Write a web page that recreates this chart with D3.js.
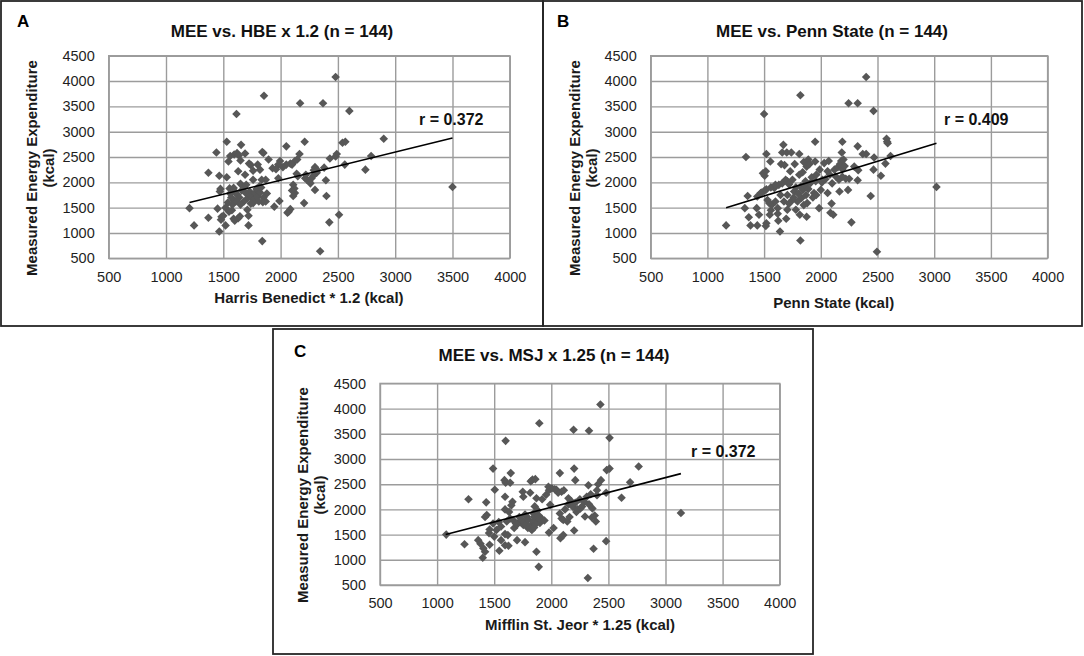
<!DOCTYPE html>
<html>
<head>
<meta charset="utf-8">
<script src="https://cdn.jsdelivr.net/npm/d3@7"></script>
<style>
  body { margin: 0; background: #fff; }
  text { font-family: "Liberation Sans", Arial, sans-serif; }
</style>
</head>
<body>
<div id="canvas"></div>
<script>
"use strict"

/* values */
let xTicks = [500, 1000, 1500, 2000, 2500, 3000, 3500, 4000];
let yTicks = [500, 1000, 1500, 2000, 2500, 3000, 3500, 4000, 4500];

let panelLetters = ["A", "B", "C"];
let panelTitles = ["MEE vs. HBE x 1.2 (n = 144)", "MEE vs. Penn State (n = 144)", "MEE vs. MSJ x 1.25 (n = 144)"];
let xTitles = ["Harris Benedict * 1.2 (kcal)", "Penn State (kcal)", "Mifflin St. Jeor * 1.25 (kcal)"];
let yTitle = ["Measured Energy Expenditure", "(kcal)"];
let rLabels = ["r = 0.372", "r = 0.409", "r = 0.372"];

// trend line ends [x0, y0, x1, y1]
let trendA = [1205, 1600, 3500, 2875];
let trendB = [1165, 1500, 3020, 2770];
let trendC = [1075, 1500, 3135, 2710];

let pointsA = [
  [2480,4080],[1855,3710],[2170,3560],[2370,3560],[2600,3410],[1615,3350],[2900,2860],[3500,1910],
  [2790,2520],[2740,2250],[1530,2800],[1655,2740],[1440,2590],[1595,2550],[1620,2580],[1635,2530],
  [1545,2410],[1840,2600],[1850,2580],[2050,2710],[2210,2800],[2540,2780],[2565,2800],[2490,2560],
  [2480,2510],[2560,2350],[2430,2470],[2380,2290],[2300,2300],[2290,2240],[2315,2190],[2230,2050],
  [2165,2560],[2145,2450],[2125,2420],[2085,2370],[2050,2350],[1995,2420],[1980,2350],[1895,2450],
  [1800,2350],[1725,2370],[1820,2250],[1760,2230],[1690,2150],[1630,2220],[1370,2190],[1465,2130],
  [1530,2100],[1475,1870],[1590,1890],[1650,1970],[1760,2050],[1835,2050],[1815,1920],[1980,2080],
  [2110,1950],[2125,1790],[2110,1730],[2215,2080],[2300,1850],[2395,2040],[2400,1730],[2205,1590],
  [2510,1360],[2425,1210],[1990,1630],[1945,1520],[2070,1420],[2085,1470],[1845,1610],[1760,1590],
  [1590,1650],[1450,1480],[1575,1450],[1370,1300],[1485,1320],[1590,1280],[1645,1330],[1720,1340],
  [1720,1150],[1520,1150],[1465,1030],[1245,1150],[1205,1490],[1840,840],[2345,640],[1555,1880],
  [1600,1820],[1620,1760],[1640,1700],[1660,1840],[1680,1900],[1700,1780],[1710,1680],[1730,1820],
  [1740,1740],[1760,1660],[1775,1790],[1790,1870],[1800,1720],[1810,1620],[1820,1800],[1830,1900],
  [1850,1700],[1570,1700],[1580,1560],[1610,1620],[1540,1600],[1680,1620],[1700,1950],[1650,1560],
  [1520,1500],[1550,1420],[1600,1240],[1630,1290],[1480,1260],[1500,1340],[1870,1620],[1740,2340],
  [1690,2570],[1560,2520],[1650,2430],[1870,2050],[2100,2350],[2140,2170],[2150,2120],[2120,1880],
  [2100,1840],[2220,2150],[2250,2020],[2270,2080],[2290,2140],[2320,2240],[2260,1980],[2060,1400],
  [1930,2280],[1960,2260],[2020,2300],[1560,1780],[1470,1820],[1710,1460],[1740,1580],[1880,1780]
];

let pointsB = [
  [2400,4080],[1820,3720],[2245,3560],[2325,3560],[2465,3410],[1500,3350],[2580,2860],[2585,2800],
  [2590,2770],[2615,2520],[3020,1910],[1340,2500],[1670,2740],[1520,2560],[1660,2590],[1700,2590],
  [1810,2560],[1950,2800],[2190,2800],[2325,2710],[2185,2590],[2370,2560],[2400,2560],[2465,2250],
  [2530,2130],[2570,2370],[2440,1730],[2270,1210],[2495,630],[1820,850],[1165,1150],[1330,1490],
  [1355,1730],[1435,1490],[1365,1310],[1380,1150],[1440,1150],[1520,1190],[1515,1140],[1455,1360],
  [1550,1360],[1640,1030],[1625,1240],[1695,1280],[1815,1360],[1875,1320],[1985,1490],[2095,1580],
  [2085,1400],[2110,1360],[2240,1850],[2165,1820],[2325,2040],[2250,2070],[2220,2070],[2295,2310],
  [2030,2380],[2060,2220],[2015,2050],[1955,2020],[2000,1850],[2060,1790],[1940,1790],[1880,1590],
  [1850,1550],[1780,1460],[1705,1460],[1620,1490],[1570,1560],[1530,1650],[1505,1840],[1470,1790],
  [1440,1720],[1505,2130],[1490,2180],[1515,2220],[1555,2410],[1650,2360],[1730,2220],[1770,2360],
  [1850,2400],[1890,2450],[1875,2310],[1810,2150],[1750,2050],[1705,2020],[1630,1950],[1590,1890],
  [1645,1750],[1705,1750],[1765,1820],[1825,1920],[1865,2020],[1910,1990],[1830,1690],[1795,1620],
  [1750,1650],[1675,1620],[1600,1620],[1545,1590],[1480,1800],[1520,1860],[1560,1900],[1600,1950],
  [1660,1980],[1690,2050],[1720,1960],[1780,1900],[1800,1780],[1840,1850],[1860,1950],[1890,1870],
  [1920,2100],[1960,2150],[1990,2250],[2010,2000],[2040,2060],[2080,2150],[2120,2250],[2150,2300],
  [2170,2360],[2180,2420],[2200,2450],[2190,2260],[2210,2320],[2130,2120],[2100,1980],[2160,2050],
  [2190,2110],[1930,1700],[1960,1750],[1900,2360],[1950,2410],[1840,2200],[1870,1750],[1720,1580],
  [1760,1700],[1680,2340],[1740,2590],[1560,1450],[1620,1380],[2070,2420],[2330,2240],[2470,2490]
];

let pointsC = [
  [2430,4080],[1895,3710],[2195,3580],[2330,3560],[2510,3420],[1600,3360],[2765,2850],[2690,2540],
  [3135,1930],[2615,2230],[1490,2810],[1645,2720],[1590,2580],[1600,2530],[1835,2590],[1820,2560],
  [2075,2720],[2200,2810],[2210,2580],[2325,2480],[2485,2780],[2510,2810],[2435,2580],[2410,2500],
  [2480,2330],[2400,2380],[2345,2300],[1275,2200],[1430,2140],[1435,1890],[1420,1850],[1505,2390],
  [1595,2250],[1660,2150],[1595,2000],[1750,2350],[1755,2250],[1815,2330],[1870,2220],[1955,2290],
  [1975,2450],[2005,2420],[2045,2390],[2090,2350],[1990,2090],[1855,2060],[1845,1920],[1785,1860],
  [1725,1760],[1665,1790],[1675,1630],[1755,1690],[1795,1630],[1870,1760],[1915,1820],[1900,1730],
  [1830,1590],[1700,1390],[1770,1350],[1870,1160],[1890,860],[1980,1540],[2020,1630],[2080,1430],
  [2105,1490],[2090,1820],[2075,1920],[2105,1790],[2200,1580],[2255,2020],[2295,1860],[2355,1840],
  [2390,1760],[2370,1220],[2480,1370],[2320,640],[1080,1500],[1240,1310],[1360,1390],[1380,1320],
  [1405,1230],[1420,1160],[1400,1040],[1455,1530],[1500,1460],[1520,1590],[1560,1390],[1595,1510],
  [1595,1290],[1545,1180],[1625,1280],[1610,1760],[1640,1820],[1630,1950],[1650,2080],[1700,1700],
  [1720,1850],[1740,1800],[1760,1750],[1780,1700],[1800,1800],[1820,1680],[1840,1760],[1850,1850],
  [1860,1700],[1880,1980],[1890,1880],[1900,1800],[1920,2200],[1940,1780],[1820,1620],[1850,1640],
  [1770,1900],[1690,1720],[1560,1660],[1540,1750],[1490,1720],[1460,1600],[1620,1490],[2120,2000],
  [2150,2100],[2170,2170],[2190,2050],[2210,2130],[2230,2000],[2250,2200],[2270,2060],[2290,2150],
  [2310,2250],[2330,2100],[2140,1760],[2160,1850],[2060,2330],[2110,2380],[2150,2220],[2360,2020],
  [2380,1880],[2030,2400],[1980,2380],[1640,2530],[1460,1300],[2400,2280],[2220,1950],[1860,2600]
];

let allPoints = [pointsA, pointsB, pointsC];
let allTrends = [trendA, trendB, trendC];

/* where each framed panel sits on the page */
let layout = [
  { frame: [1, 1, 543, 326], plot: [108.7, 55.7, 509.8, 258.3], letter: [17, 27], titleX: 282, titleY: 37,
    yTitleX: 37, yTitleY: 168, xTitleX: 309, xTitleY: 302.5, rX: 419, rY: 125 },
  { frame: [543, 1, 1082, 326], plot: [650.7, 55.7, 1047.6, 258.3], letter: [557, 27], titleX: 832, titleY: 37,
    yTitleX: 580, yTitleY: 168, xTitleX: 833.7, xTitleY: 308.3, rX: 944, rY: 125 },
  { frame: [273, 329, 813, 654], plot: [380, 383.4, 779.7, 585], letter: [294, 357], titleX: 554, titleY: 361,
    yTitleX: 308, yTitleY: 495, xTitleX: 580, xTitleY: 630, rX: 691, rY: 457 }
];

let drawing = d3.select("#canvas")
  .append("svg")
  .attr("width", 1084)
  .attr("height", 656);

drawing.append("rect")
  .attr("width", 1084).attr("height", 656)
  .attr("fill", "white");

let diamond = "M0,-4.3L4.3,0L0,4.3L-4.3,0Z";

layout.forEach(function (L, i) {
  let g = drawing.append("g");
  let [px0, py0, px1, py1] = L.plot;

  let x = d3.scaleLinear().domain([500, 4000]).range([px0, px1]);
  let y = d3.scaleLinear().domain([500, 4500]).range([py1, py0]);

  // grid + tick labels
  let xAxis = g.append("g")
    .attr("transform", "translate(0," + py1 + ")")
    .call(d3.axisBottom(x).tickValues(xTicks).tickFormat(d3.format("d"))
      .tickSize(-(py1 - py0)).tickPadding(13));
  let yAxis = g.append("g")
    .attr("transform", "translate(" + px0 + ",0)")
    .call(d3.axisLeft(y).tickValues(yTicks).tickFormat(d3.format("d"))
      .tickSize(-(px1 - px0)).tickPadding(14));

  [xAxis, yAxis].forEach(function (ax) {
    ax.select(".domain").remove();
    ax.selectAll(".tick line").attr("stroke", "#9c9c9c").attr("stroke-width", 1.4);
    ax.selectAll(".tick text")
      .attr("fill", "#1f1f1f")
      .style("font-size", "14.5px")
      .style("font-family", "'Liberation Sans', Arial, sans-serif");
  });

  g.append("rect")
    .attr("x", px0).attr("y", py0)
    .attr("width", px1 - px0).attr("height", py1 - py0)
    .attr("fill", "none")
    .attr("stroke", "#9c9c9c")
    .attr("stroke-width", 1.4);

  // points
  g.selectAll("path.pt")
    .data(allPoints[i])
    .enter()
    .append("path")
    .attr("class", "pt")
    .attr("d", diamond)
    .attr("transform", d => "translate(" + x(d[0]) + "," + y(d[1]) + ")")
    .attr("fill", "#575757");

  // trend line
  let t = allTrends[i];
  g.append("line")
    .attr("x1", x(t[0])).attr("y1", y(t[1]))
    .attr("x2", x(t[2])).attr("y2", y(t[3]))
    .attr("stroke", "black")
    .attr("stroke-width", 1.6);

  g.append("text")
    .attr("x", L.rX).attr("y", L.rY)
    .attr("font-size", 16).attr("font-weight", "bold")
    .attr("fill", "#111")
    .text(rLabels[i]);

  // titles
  g.append("text")
    .attr("x", L.letter[0]).attr("y", L.letter[1])
    .attr("font-size", 17).attr("font-weight", "bold")
    .text(panelLetters[i]);

  g.append("text")
    .attr("x", L.titleX).attr("y", L.titleY)
    .attr("text-anchor", "middle")
    .attr("font-size", 17).attr("font-weight", "bold")
    .attr("fill", "#111")
    .text(panelTitles[i]);

  g.append("text")
    .attr("x", L.xTitleX).attr("y", L.xTitleY)
    .attr("text-anchor", "middle")
    .attr("font-size", 15).attr("font-weight", "bold")
    .attr("fill", "#1a1a1a")
    .text(xTitles[i]);

  yTitle.forEach(function (line, k) {
    g.append("text")
      .attr("transform", "translate(" + (L.yTitleX + k * 17) + "," + L.yTitleY + ") rotate(-90)")
      .attr("text-anchor", "middle")
      .attr("font-size", 15).attr("font-weight", "bold")
      .attr("fill", "#1a1a1a")
      .text(line);
  });

  // panel frame
  let [fx0, fy0, fx1, fy1] = L.frame;
  g.append("rect")
    .attr("x", fx0).attr("y", fy0)
    .attr("width", fx1 - fx0).attr("height", fy1 - fy0)
    .attr("fill", "none")
    .attr("stroke", "#262626")
    .attr("stroke-width", 1.8);
});
</script>
</body>
</html>
